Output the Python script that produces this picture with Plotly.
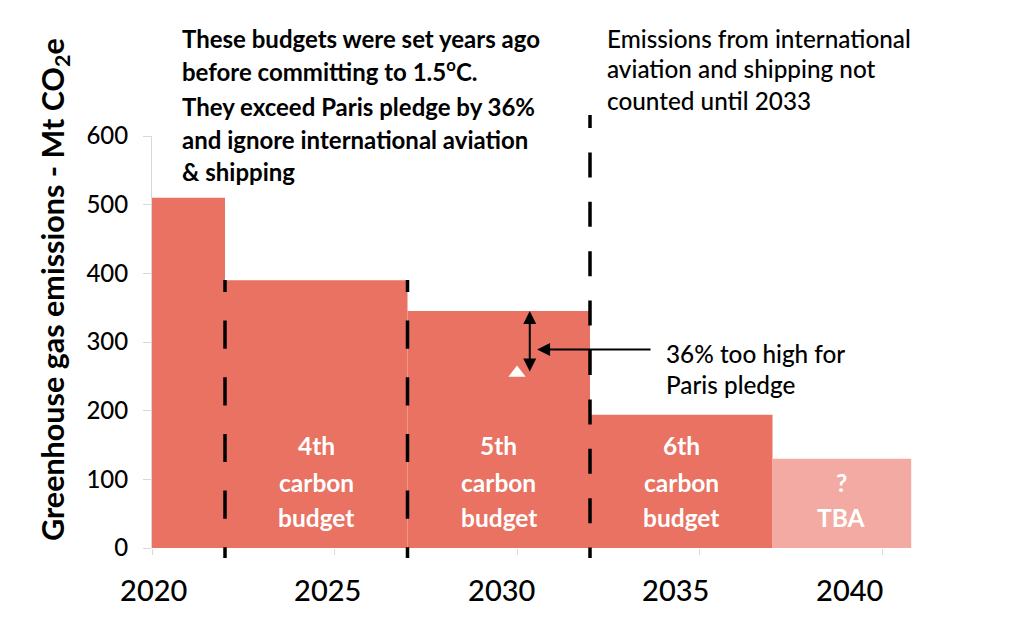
import plotly.graph_objects as go

# ---------------- data ----------------
period_start = [2020, 2022, 2027, 2032, 2037]
period_end = [2022, 2027, 2032, 2037, 2040.8]
budget_mt = [510, 390, 345, 194, 130]
budget_labels = [[], ["4th", "carbon", "budget"], ["5th", "carbon", "budget"],
                 ["6th", "carbon", "budget"], ["?", "TBA"]]
bar_colors = ["#E97262", "#E97262", "#E97262", "#E97262", "#F2AAA3"]
tick_years = [2020, 2025, 2030, 2035, 2040]
y_ticks = [0, 100, 200, 300, 400, 500, 600]
boundary_years = [2022, 2027, 2032]
paris_year = 2030
paris_level = 255
gap_top_level = 345
arrow_year = 2030.35
pointer_level = 289
pointer_tip_year = 2030.55
pointer_tail_year = 2033.7

left_note_1 = ["These budgets were set years ago", "before committing to 1.5<sup>o</sup>C."]
left_note_2 = ["They exceed Paris pledge by 36%", "and ignore international aviation", "& shipping"]
right_note = ["Emissions from international", "aviation and shipping not", "counted until 2033"]
pointer_note = ["36% too high for", "Paris pledge"]
y_title = "Greenhouse gas emissions - Mt CO<sub>2</sub>e"

# ---------------- layout helpers ----------------
W, H = 1020, 634
L, R, T, B = 152, 18, 136, 86
PW, PH = W - L - R, H - T - B
FONT = "Lato"
AXIS_GREY = "#D9D9D9"


def px(xp):
    return (xp - L) / PW


def py(yp):
    return (H - B - yp) / PH


fig = go.Figure()

centers = [(s + e) / 2 for s, e in zip(period_start, period_end)]
widths = [e - s for s, e in zip(period_start, period_end)]
fig.add_trace(go.Bar(x=centers, y=budget_mt, width=widths, base=0,
                     marker=dict(color=bar_colors, line=dict(width=0)),
                     hoverinfo="skip", showlegend=False))

fig.add_trace(go.Scatter(x=[paris_year], y=[paris_level], mode="markers",
                         marker=dict(symbol="triangle-up", size=15, color="white",
                                     line=dict(width=0)),
                         hoverinfo="skip", showlegend=False))

# invisible trace to carry the label axis
fig.add_trace(go.Scatter(x=[tick_years[0]], y=[0], xaxis="x2", mode="markers",
                         marker=dict(opacity=0), hoverinfo="skip", showlegend=False))

annotations = []

# bar labels
line_levels = [150, 96, 45]
for c, lines in zip(centers, budget_labels):
    levels = line_levels[len(line_levels) - len(lines):]
    for txt, lv in zip(lines, levels):
        annotations.append(dict(x=c, y=lv, xref="x", yref="y", text=txt, showarrow=False,
                                font=dict(family=FONT, size=24.5, color="white", weight="bold"),
                                xanchor="center", yanchor="middle"))


def text_lines(lines, x_px, y_pxs, weight="normal", size=24):
    for txt, yp in zip(lines, y_pxs):
        annotations.append(dict(x=px(x_px), y=py(yp), xref="paper", yref="paper", text=txt,
                                showarrow=False, xanchor="left", yanchor="middle",
                                font=dict(family=FONT, size=size, color="black", weight=weight)))


text_lines(left_note_1, 180, [38, 70], weight="bold", size=24)
text_lines(left_note_2, 180, [107, 139, 171], weight="bold", size=24)
text_lines(right_note, 605, [38, 69, 101], weight=500, size=24.3)
text_lines(pointer_note, 664, [353, 384], weight=500, size=24.3)

# y title
annotations.append(dict(x=px(54), y=py(290), xref="paper", yref="paper", text=y_title,
                        textangle=-90, showarrow=False, xanchor="center", yanchor="middle",
                        font=dict(family=FONT, size=30.5, color="black", weight="bold")))

# double-headed gap arrow
annotations.append(dict(x=arrow_year, y=gap_top_level, ax=arrow_year, ay=paris_level,
                        xref="x", yref="y", axref="x", ayref="y", text="", showarrow=True,
                        arrowhead=2, startarrowhead=2, arrowside="end+start",
                        arrowsize=1.3, arrowwidth=2, arrowcolor="black",
                        standoff=0, startstandoff=0))
# pointer arrow
annotations.append(dict(x=pointer_tip_year, y=pointer_level, ax=pointer_tail_year, ay=pointer_level,
                        xref="x", yref="y", axref="x", ayref="y", text="", showarrow=True,
                        arrowhead=2, arrowsize=1.3, arrowwidth=2, arrowcolor="black", standoff=0))


def dash_pattern(first, dash, gap, n):
    parts = [first]
    for _ in range(n):
        parts += [gap, dash]
    return ",".join(f"{p}px" for p in parts)


shapes = []
# x-axis baseline, ending at the last category tick (drawn beneath the bars)
shapes.append(dict(type="line", xref="x", yref="y", x0=tick_years[0], x1=tick_years[-1],
                   y0=0, y1=0, line=dict(color=AXIS_GREY, width=1), layer="below"))

dash_specs = [  # (top px, first partial dash, dash, gap)
    (280, 12, 28.2, 28.5),
    (280, 12, 28.2, 28.5),
    (115, 13, 25, 24.4),
]
for yr, (top, first, d, g) in zip(boundary_years, dash_specs):
    shapes.append(dict(type="line", xref="x", yref="paper", x0=yr, x1=yr,
                       y0=py(top), y1=py(558),
                       line=dict(color="black", width=3.5, dash=dash_pattern(first, d, g, 12)),
                       layer="above"))

fig.update_layout(
    width=W, height=H,
    margin=dict(l=L, r=R, t=T, b=B, pad=0),
    paper_bgcolor="white", plot_bgcolor="white",
    showlegend=False,
    font=dict(family=FONT, color="black"),
    xaxis=dict(range=[2020, 2020 + PW / 36.5], showgrid=False, zeroline=False,
               showline=False,
               ticks="outside", ticklen=6, tickcolor=AXIS_GREY,
               tickvals=tick_years, showticklabels=False),
    xaxis2=dict(overlaying="x", anchor="y", side="bottom",
                range=[2019.95, 2019.95 + PW / 34.8], showgrid=False, zeroline=False,
                showline=False, ticks="", tickvals=tick_years,
                ticktext=[str(t) for t in tick_years],
                tickfont=dict(family=FONT, size=29, color="black", weight=500),
                ticklabelstandoff=23),
    yaxis=dict(range=[0, 600], showgrid=False, zeroline=False,
               showline=True, linecolor=AXIS_GREY, linewidth=1,
               ticks="outside", ticklen=8, tickcolor=AXIS_GREY,
               tickvals=y_ticks, tickfont=dict(family=FONT, size=24, color="black", weight=500),
               ticklabelstandoff=10),
    annotations=annotations,
    shapes=shapes,
)

fig.write_html("out.html", config={"displayModeBar": False},
               post_script="document.body.style.margin='0';")
